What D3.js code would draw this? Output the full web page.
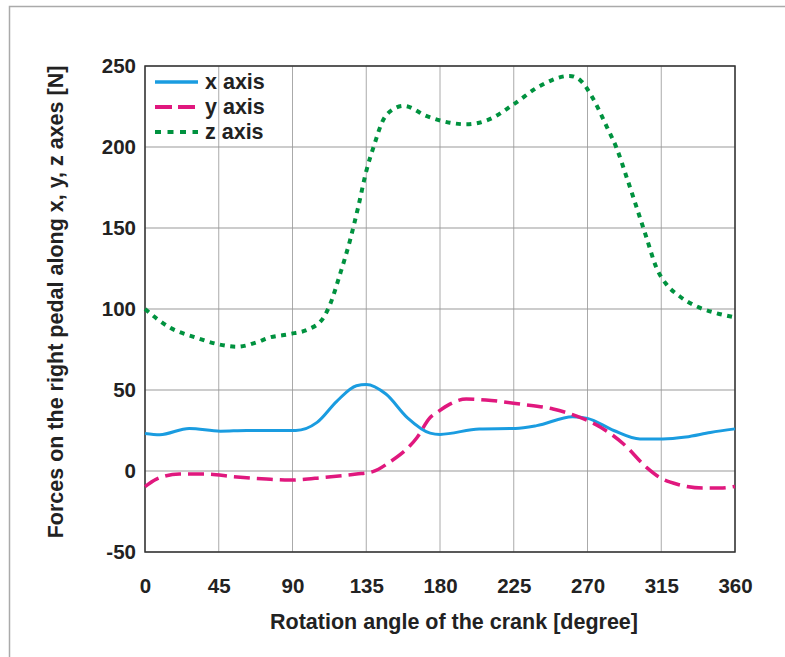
<!DOCTYPE html>
<html>
<head>
<meta charset="utf-8">
<script src="https://cdn.jsdelivr.net/npm/d3@7"></script>
<style>
  body { margin: 0; background: #fff; }
  svg { display: block; font-family: "Liberation Sans", Arial, sans-serif; }
</style>
</head>
<body>
<div id="vis"></div>
<script>
// data: angle in degrees, force in N
const xAngles = [0, 9, 27, 46, 62, 92, 105, 117, 129, 135, 147, 160, 174, 180, 204, 226, 239, 261, 270, 286, 302, 316, 330, 345, 360];
const xForce  = [23.2, 22.4, 26.3, 24.6, 25, 25, 30, 43, 52.6, 53.4, 47.5, 33, 23.4, 22.6, 26, 26.3, 28, 33.5, 32.5, 25, 19.8, 19.8, 21, 23.8, 26];

const yAngles = [0, 7, 21, 37, 54, 74, 88, 109, 129, 139, 149, 166, 174, 178, 186, 196, 208, 229, 249, 263, 278, 292, 306, 314, 326, 341, 351, 360];
const yForce  = [-9.7, -5, -1.9, -1.9, -3.5, -5, -5.6, -4, -1.9, -0.4, 5.3, 20.7, 33, 36, 41.3, 44.4, 43.8, 41.3, 38.3, 34, 27, 16.7, 2.2, -4, -8.5, -10.5, -10.5, -9.5];

const zAngles = [0, 15, 31, 44, 56, 68, 76, 88, 100, 109, 113, 119, 125, 130, 135, 140, 145, 151, 158, 172, 186, 196, 210, 225, 241, 259, 266, 273, 282, 288, 294, 300, 306, 312, 318, 326, 338, 347, 360];
const zForce  = [100, 88.6, 82.4, 78.4, 76.7, 79.4, 82.4, 84.5, 87.6, 94.8, 103, 121.5, 142, 162.6, 185, 201.7, 216, 223, 225.4, 219, 215, 214, 217, 226.4, 237.7, 243.9, 240.8, 230.5, 212, 198.7, 181, 162.6, 144, 125.6, 115.4, 108, 101, 97.9, 94.8];

const xTicks = [0, 45, 90, 135, 180, 225, 270, 315, 360];
const yTicks = [-50, 0, 50, 100, 150, 200, 250];

const seriesNames = ["x axis", "y axis", "z axis"];

const W = 785, H = 657;
const margin = { top: 66, left: 145, right: 50, bottom: 105 };
const width = W - margin.left - margin.right,
      height = H - margin.top - margin.bottom;

const svg = d3.select('#vis')
  .append('svg')
  .attr('width', W)
  .attr('height', H);

// outer frame (runs off the right and bottom edges)
svg.append('path')
  .attr('d', `M9.5,${H} V6.5 H${W}`)
  .attr('fill', 'none')
  .attr('stroke', '#aaa')
  .attr('stroke-width', 1.5);

const g = svg.append('g')
  .attr('transform', `translate(${margin.left},${margin.top})`);

const x = d3.scaleLinear().domain([0, 360]).range([0, width]);
const y = d3.scaleLinear().domain([-50, 250]).range([height, 0]);

// grid
g.append('g')
  .selectAll('line')
  .data(xTicks)
  .join('line')
    .attr('x1', d => x(d)).attr('x2', d => x(d))
    .attr('y1', 0).attr('y2', height)
    .attr('stroke', '#aaa')
    .attr('stroke-width', 1);
g.append('g')
  .selectAll('line')
  .data(yTicks)
  .join('line')
    .attr('x1', 0).attr('x2', width)
    .attr('y1', d => y(d)).attr('y2', d => y(d))
    .attr('stroke', '#999')
    .attr('stroke-width', 1);

// axes (labels only)
const xAxis = g.append('g')
  .attr('transform', `translate(0,${height})`)
  .call(d3.axisBottom(x).tickValues(xTicks).tickFormat(d => String(d)).tickSize(0).tickPadding(26));
const yAxis = g.append('g')
  .call(d3.axisLeft(y).tickValues(yTicks).tickFormat(d => String(d)).tickSize(0).tickPadding(9));
[xAxis, yAxis].forEach(a => {
  a.select('.domain').remove();
  a.selectAll('text')
    .attr('font-family', '"Liberation Sans", Arial, sans-serif')
    .attr('font-size', 20.5)
    .attr('font-weight', 'bold')
    .attr('fill', '#222');
});

// plot border
g.append('rect')
  .attr('width', width).attr('height', height)
  .attr('fill', 'none')
  .attr('stroke', '#333')
  .attr('stroke-width', 1.5);

const styles = [
  { color: '#1a9ce0', width: 3, dash: null },
  { color: '#e0187e', width: 3.5, dash: '16,7' },
  { color: '#00923f', width: 4, dash: '5,5.5' }
];

const line = d3.line()
  .x(d => x(d[0]))
  .y(d => y(d[1]))
  .curve(d3.curveMonotoneX);

const series = [
  d3.zip(xAngles, xForce),
  d3.zip(yAngles, yForce),
  d3.zip(zAngles, zForce)
];

series.forEach((s, i) => {
  g.append('path')
    .datum(s)
    .attr('fill', 'none')
    .attr('stroke', styles[i].color)
    .attr('stroke-width', styles[i].width)
    .attr('stroke-dasharray', styles[i].dash)
    .attr('d', line);
});

// legend
const legend = g.append('g').attr('transform', 'translate(10,16)');
seriesNames.forEach((name, i) => {
  const row = legend.append('g').attr('transform', `translate(0,${i * 25})`);
  row.append('line')
    .attr('x1', 0).attr('x2', 43)
    .attr('stroke', styles[i].color)
    .attr('stroke-width', i === 0 ? 3.5 : 4)
    .attr('stroke-dasharray', i === 1 ? '17,6' : i === 2 ? '6,6.5' : null);
  row.append('text')
    .attr('x', 50)
    .attr('y', 7)
    .attr('font-size', 21.5)
    .attr('font-weight', 'bold')
    .attr('fill', '#222')
    .text(name);
});

// axis titles
svg.append('text')
  .attr('x', 454)
  .attr('y', 629)
  .attr('text-anchor', 'middle')
  .attr('font-size', 21.5)
  .attr('font-weight', 'bold')
  .attr('fill', '#222')
  .text('Rotation angle of the crank [degree]');

svg.append('text')
  .attr('transform', 'translate(63,302) rotate(-90)')
  .attr('text-anchor', 'middle')
  .attr('font-size', 21.5)
  .attr('font-weight', 'bold')
  .attr('fill', '#222')
  .text('Forces on the right pedal along x, y, z axes [N]');
</script>
</body>
</html>
